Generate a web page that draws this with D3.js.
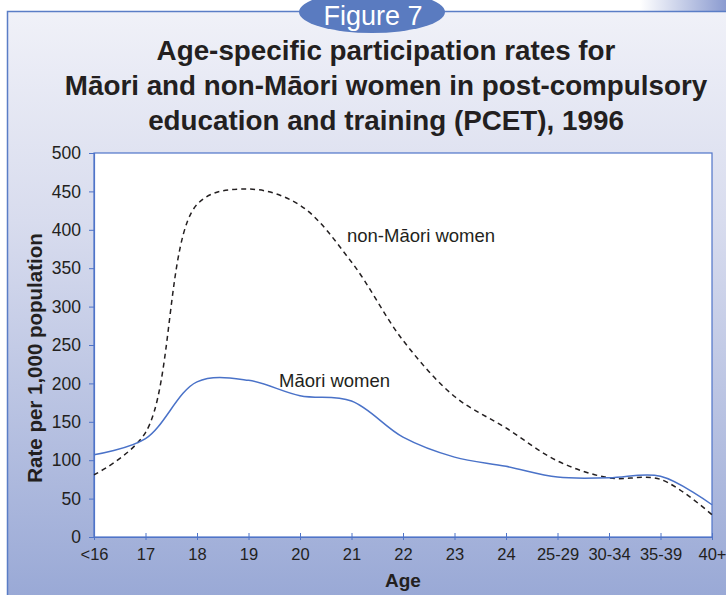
<!DOCTYPE html>
<html>
<head>
<meta charset="utf-8">
<script src="https://cdn.jsdelivr.net/npm/d3@7"></script>
<style>
  html, body { margin: 0; padding: 0; background: #ffffff; }
  svg { display: block; }
  text { font-family: "Liberation Sans", Arial, Helvetica, sans-serif; fill: #231f20; }
</style>
</head>
<body>
<svg id="chart" width="726" height="595"></svg>
<script>
// ---- data ----
const categories = ["<16", "17", "18", "19", "20", "21", "22", "23", "24", "25-29", "30-34", "35-39", "40+"];
const maoriRates = [107, 128, 202, 204, 184, 177, 130, 104, 92, 78, 77, 79, 42];
const nonMaoriRates = [81, 136, 433, 453, 432, 358, 256, 183, 142, 99, 77, 75, 29];
const yTickValues = [0, 50, 100, 150, 200, 250, 300, 350, 400, 450, 500];
const titleLines = [
  "Age-specific participation rates for",
  "Māori and non-Māori women in post-compulsory",
  "education and training (PCET), 1996"
];
const figureLabel = "Figure 7";
const yAxisTitle = "Rate per 1,000 population";
const xAxisTitle = "Age";
const seriesNames = ["Māori women", "non-Māori women"];

// ---- layout ----
const W = 726, H = 595;
const plot = { left: 94, right: 712, top: 153, bottom: 537 };
const blue = "#4f74c8";

const svg = d3.select("#chart");
const defs = svg.append("defs");

const bg = defs.append("linearGradient").attr("id", "bgGrad")
  .attr("x1", 0).attr("y1", 0).attr("x2", 0).attr("y2", 1);
bg.append("stop").attr("offset", "0%").attr("stop-color", "#f0f1f8");
bg.append("stop").attr("offset", "35%").attr("stop-color", "#d8dcee");
bg.append("stop").attr("offset", "100%").attr("stop-color", "#97a7d5");

const corner = defs.append("linearGradient").attr("id", "cornerGrad")
  .attr("x1", 0).attr("y1", 0).attr("x2", 1).attr("y2", 0);
corner.append("stop").attr("offset", "0%").attr("stop-color", "#ffffff");
corner.append("stop").attr("offset", "100%").attr("stop-color", "#8b9bd0");

// top-right decorative strip
svg.append("rect").attr("x", 640).attr("y", 0).attr("width", 86).attr("height", 11)
  .attr("fill", "url(#cornerGrad)");

// frame
svg.append("rect").attr("x", 7.5).attr("y", 11.5).attr("width", 740).attr("height", 600)
  .attr("fill", "url(#bgGrad)").attr("stroke", "#5a7dc6").attr("stroke-width", 1.5);

// figure tab
svg.append("ellipse").attr("cx", 372).attr("cy", 12).attr("rx", 73).attr("ry", 21)
  .attr("fill", "#5a7bc0");
svg.append("text").attr("x", 373).attr("y", 25).attr("text-anchor", "middle")
  .style("fill", "#ffffff").style("font-size", "27px").text(figureLabel);

// title
svg.append("g").selectAll("text").data(titleLines).join("text")
  .attr("x", 386).attr("y", (d, i) => 60 + i * 35)
  .attr("text-anchor", "middle")
  .style("font-size", "27.8px").style("font-weight", "bold")
  .text(d => d);

// plot background
svg.append("rect").attr("x", plot.left).attr("y", plot.top)
  .attr("width", plot.right - plot.left).attr("height", plot.bottom - plot.top)
  .attr("fill", "#ffffff").attr("stroke", blue).attr("stroke-width", 1.2);

// scales
const x = d3.scalePoint().domain(categories).range([plot.left, plot.right]);
const y = d3.scaleLinear().domain([0, 500]).range([plot.bottom, plot.top]);

// y axis
const yAxis = svg.append("g").attr("transform", `translate(${plot.left},0)`)
  .call(d3.axisLeft(y).tickValues(yTickValues).tickSize(5).tickPadding(8).tickFormat(d3.format("d")));
yAxis.select(".domain").attr("stroke", blue).attr("stroke-width", 1.2);
yAxis.selectAll(".tick line").attr("stroke", blue);
yAxis.selectAll(".tick text").style("font-size", "17.5px").style("font-family", "Liberation Sans, Arial, sans-serif").attr("fill", "#231f20");

// x axis
const xAxis = svg.append("g").attr("transform", `translate(0,${plot.bottom})`)
  .call(d3.axisBottom(x).tickSizeInner(3).tickSizeOuter(0).tickPadding(8));
xAxis.select(".domain").attr("stroke", blue).attr("stroke-width", 1.2);
xAxis.selectAll(".tick line").attr("stroke", blue).attr("y1", -4).attr("y2", 3);
xAxis.selectAll(".tick text").style("font-size", "16.5px").style("font-family", "Liberation Sans, Arial, sans-serif").attr("fill", "#231f20");

// axis titles
svg.append("text").attr("transform", `translate(42,${(plot.top + plot.bottom) / 2 + 13}) rotate(-90)`)
  .attr("text-anchor", "middle").style("font-size", "20.5px").style("font-weight", "bold")
  .text(yAxisTitle);
svg.append("text").attr("x", (plot.left + plot.right) / 2).attr("y", 587)
  .attr("text-anchor", "middle").style("font-size", "19px").style("font-weight", "bold")
  .text(xAxisTitle);

// lines
const line = d3.line().x((d, i) => x(categories[i])).y(d => y(d)).curve(d3.curveCatmullRom.alpha(0.5));

svg.append("path").datum(nonMaoriRates).attr("d", line)
  .attr("fill", "none").attr("stroke", "#231f20").attr("stroke-width", 1.5)
  .attr("stroke-dasharray", "5,4");
svg.append("path").datum(maoriRates).attr("d", line)
  .attr("fill", "none").attr("stroke", "#4a72c8").attr("stroke-width", 1.5);

// series labels
svg.append("text").attr("x", 347).attr("y", 242).style("font-size", "18.5px").text(seriesNames[1]);
svg.append("text").attr("x", 279).attr("y", 387).style("font-size", "18.5px").text(seriesNames[0]);
</script>
</body>
</html>
